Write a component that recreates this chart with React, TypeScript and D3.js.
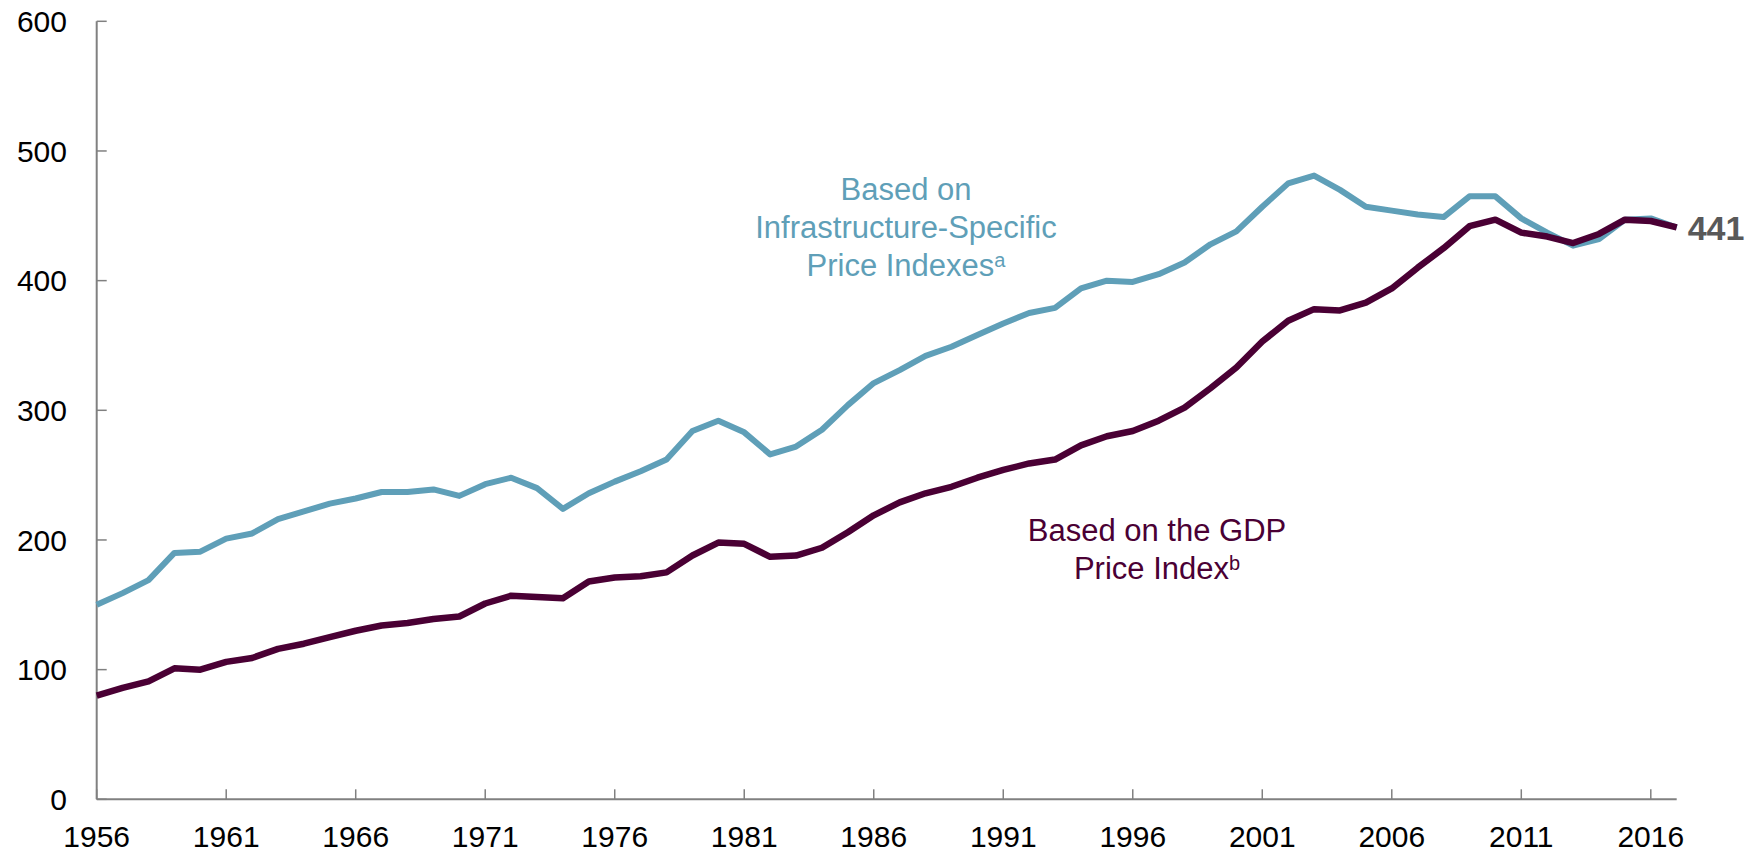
import * as d3 from "d3";

// ── Data (index values) ──────────────────────────────────────────
const years = d3.range(1956, 2018);

const infraSpecific = [
  150, 159, 169, 190, 191, 201, 205, 216, 222, 228,
  232, 237, 237, 239, 234, 243, 248, 240, 224, 236,
  245, 253, 262, 284, 292, 283, 266, 272, 285, 304,
  321, 331, 342, 349, 358, 367, 375, 379, 394, 400,
  399, 405, 414, 428, 438, 457, 475, 481, 470, 457,
  454, 451, 449, 465, 465, 448, 437, 427, 432, 447,
  448, 441,
];

const gdpBased = [
  80, 86, 91, 101, 100, 106, 109, 116, 120, 125,
  130, 134, 136, 139, 141, 151, 157, 156, 155, 168,
  171, 172, 175, 188, 198, 197, 187, 188, 194, 206,
  219, 229, 236, 241, 248, 254, 259, 262, 273, 280,
  284, 292, 302, 317, 333, 353, 369, 378, 377, 383,
  394, 410, 425, 442, 447, 437, 434, 429, 436, 447,
  446, 441,
];

const yTicks = [0, 100, 200, 300, 400, 500, 600];
const xTicks = [1956, 1961, 1966, 1971, 1976, 1981, 1986, 1991, 1996, 2001, 2006, 2011, 2016];

const TEAL = "#5f9fb8";
const PLUM = "#4a0034";
const AXIS = "#808080";
const FONT = "'Liberation Sans', Arial, sans-serif";

export default function App() {
  const width = 1750;
  const height = 854;

  const x = d3.scaleLinear().domain([1956, 2017]).range([96.7, 1676.7]);
  const y = d3.scaleLinear().domain([0, 600]).range([799.3, 21.3]);

  const line = d3
    .line<number>()
    .x((_, i) => x(years[i]))
    .y((d) => y(d));

  const last = gdpBased[gdpBased.length - 1];

  return (
    <svg
      width={width}
      height={height}
      viewBox={`0 0 ${width} ${height}`}
      style={{ position: "absolute", left: 0, top: 0, background: "white", fontFamily: FONT }}
    >
      {/* ── Axes ───────────────────────────────────────────── */}
      <line x1={x(1956)} x2={x(1956)} y1={y(0)} y2={y(600)} stroke={AXIS} strokeWidth={2} />
      <line x1={x(1956)} x2={x(2017)} y1={y(0)} y2={y(0)} stroke={AXIS} strokeWidth={2} />

      {yTicks.map((t) => (
        <g key={`y${t}`}>
          <line x1={x(1956)} x2={x(1956) + 10} y1={y(t)} y2={y(t)} stroke={AXIS} strokeWidth={1.5} />
          <text
            x={67}
            y={y(t)}
            dy="0.36em"
            textAnchor="end"
            fontSize={30}
            fill="#000"
          >
            {t}
          </text>
        </g>
      ))}

      {xTicks.map((t) => (
        <g key={`x${t}`}>
          <line x1={x(t)} x2={x(t)} y1={y(0)} y2={y(0) - 10} stroke={AXIS} strokeWidth={1.5} />
          <text x={x(t)} y={847} textAnchor="middle" fontSize={30} fill="#000">
            {t}
          </text>
        </g>
      ))}

      {/* ── Series ─────────────────────────────────────────── */}
      <path
        d={line(infraSpecific) ?? ""}
        fill="none"
        stroke={TEAL}
        strokeWidth={6}
        strokeLinejoin="round"
      />
      <path
        d={line(gdpBased) ?? ""}
        fill="none"
        stroke={PLUM}
        strokeWidth={6.5}
        strokeLinejoin="round"
      />

      {/* ── Labels ─────────────────────────────────────────── */}
      <text textAnchor="middle" fontSize={31} fill={TEAL}>
        <tspan x={906} y={200}>Based on</tspan>
        <tspan x={906} y={238}>Infrastructure-Specific</tspan>
        <tspan x={906} y={276}>
          Price Indexes
          <tspan fontSize={20} dy={-9}>a</tspan>
        </tspan>
      </text>

      <text textAnchor="middle" fontSize={31} fill={PLUM}>
        <tspan x={1157} y={541}>Based on the GDP</tspan>
        <tspan x={1157} y={579}>
          Price Index
          <tspan fontSize={20} dy={-9}>b</tspan>
        </tspan>
      </text>

      <text
        x={x(2017) + 11}
        y={y(last)}
        dy="0.36em"
        fontSize={34}
        fontWeight="bold"
        fill="#595959"
      >
        {last}
      </text>
    </svg>
  );
}
